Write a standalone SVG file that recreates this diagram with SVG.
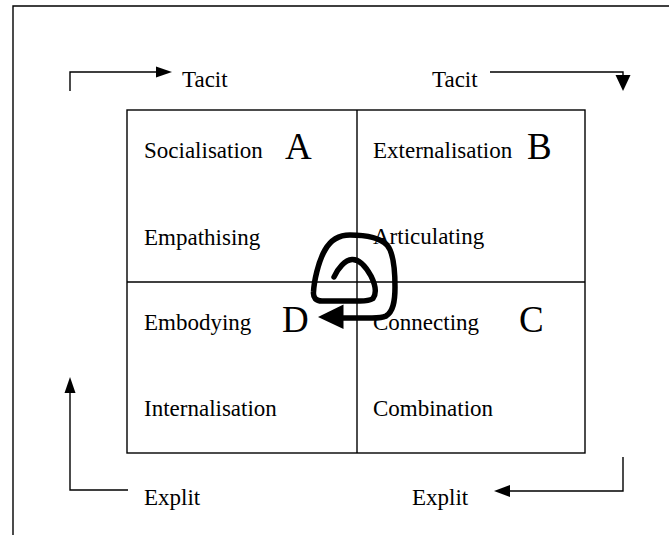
<svg xmlns="http://www.w3.org/2000/svg" width="669" height="535" viewBox="0 0 669 535">
  <style>
    .ln { fill: none; stroke: #000; stroke-width: 1.4; }
    .lbl { font-family: "Liberation Serif", "Times New Roman", serif; font-size: 23px; fill: #000; }
    .big { font-family: "Liberation Serif", "Times New Roman", serif; font-size: 37px; fill: #000; }
    .head { fill: #000; stroke: none; }
  </style>
  <rect width="669" height="535" fill="#fff"/>

  <!-- page frame -->
  <polyline class="ln" points="13,535 13,6 669,6"/>

  <!-- quadrant grid -->
  <g id="grid">
    <rect class="ln" x="127" y="110" width="458" height="343"/>
    <line class="ln" x1="357" y1="110" x2="357" y2="453"/>
    <line class="ln" x1="127" y1="282" x2="585" y2="282"/>
  </g>

  <g id="quadrant-a">
    <text class="lbl" x="144" y="158">Socialisation</text>
    <text class="big" x="285" y="159">A</text>
    <text class="lbl" x="144" y="245">Empathising</text>
  </g>
  <g id="quadrant-b">
    <text class="lbl" x="373" y="158">Externalisation</text>
    <text class="big" x="527" y="159">B</text>
    <text class="lbl" x="373" y="244">Articulating</text>
  </g>
  <g id="quadrant-c">
    <text class="lbl" x="373" y="330">Connecting</text>
    <text class="big" x="519" y="332">C</text>
    <text class="lbl" x="373" y="416">Combination</text>
  </g>
  <g id="quadrant-d">
    <text class="lbl" x="144" y="330">Embodying</text>
    <text class="big" x="282" y="332">D</text>
    <text class="lbl" x="144" y="416">Internalisation</text>
  </g>

  <!-- axis labels -->
  <g id="tacit-left"><text class="lbl" x="182" y="87">Tacit</text></g>
  <g id="tacit-right"><text class="lbl" x="432" y="87">Tacit</text></g>
  <g id="explit-left"><text class="lbl" x="144" y="505">Explit</text></g>
  <g id="explit-right"><text class="lbl" x="412" y="505">Explit</text></g>

  <!-- connectors -->
  <g id="connectors">
    <polyline class="ln" points="70,91 70,72 157,72"/>
    <polygon class="head" points="156,66.5 172,72 156,77.5"/>

    <polyline class="ln" points="490,72 623,72 623,76"/>
    <polygon class="head" points="615.5,75 630.5,75 623,91"/>

    <polyline class="ln" points="623,457 623,491 509,491"/>
    <polygon class="head" points="510,485 494,491 510,497"/>

    <polyline class="ln" points="128,490 70,490 70,392"/>
    <polygon class="head" points="64.5,393 70,377 75.5,393"/>

    <!-- spiral -->
    <path fill="none" stroke="#000" stroke-width="5.5" stroke-linecap="round" stroke-linejoin="round"
          d="M334,277 C338,268 345,260 352,259.5 C360,259 366,267 371,276 C375,284 377,293 373,298.5 C369,301 365,301 360,301 L322,301 C316,301 313,298 313.5,292 C314,282 318,262 325,250 C330,241 338,235 350,235 C362,235 378,236 387,245 C394,253 395,270 395,287 C395,302 393,312 386,316 C382,318 377,318 372,318 L342,318"/>
    <polygon class="head" points="343.5,304.5 318,317 343.5,329"/>
  </g>
</svg>
